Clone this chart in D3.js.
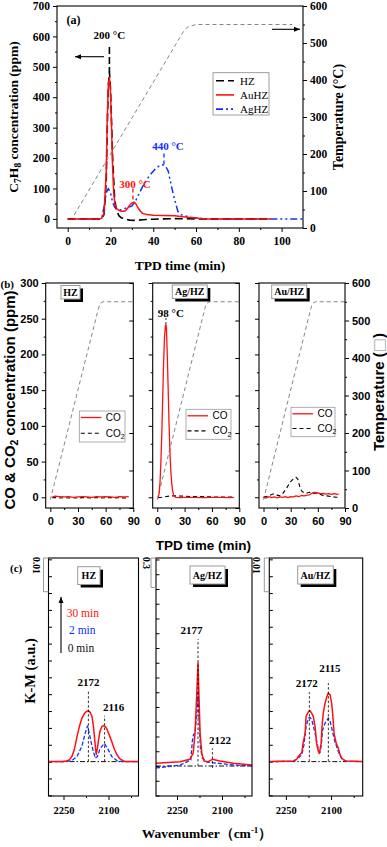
<!DOCTYPE html>
<html>
<head>
<meta charset="utf-8">
<title>TPD / DRIFTS figure</title>
<script src="https://cdn.jsdelivr.net/npm/d3@7"></script>
<style>
  body { margin: 0; background: #fff; }
  svg { display: block; }
</style>
</head>
<body>
<svg id="chart" width="387" height="847"></svg>
<script>
// ---- (a) C7H8 TPD ----
const aHzTime = [0,10,15,16,17,18,18.5,19,19.5,20,20.5,21,22,23,24,25,27,29,32,35,40,45,50,60,70,80,95];
const aHzVal  = [0,0,0,2,15,120,300,440,485,430,320,200,60,25,10,4,-1,-4,-5,-3,-1,0,1,0,0,0,0];
const aAuTime = [0,10,15,16,17,18,18.5,19,19.5,20,20.5,21,21.5,22,23,24,25,26,27,28,29,30,31,32,33,34,35,37,40,45,50,55,58,60,62,65,70,80,90,95];
const aAuVal  = [0,0,0,3,20,150,330,440,465,420,300,170,90,50,32,28,25,25,27,35,45,52,55,48,35,25,18,14,12,11,10,6,4,3,1,0,0,0,0,0];
const aAgTime = [0,10,15,16,17,18,19,20,21,22,23,24,25,27,30,32,35,38,41,43,44.5,46,47,48.5,50,51.5,53,55,57,60,65,80,100,110];
const aAgVal  = [0,0,0,5,40,85,100,85,55,38,32,30,30,35,42,63,106,140,165,175,178,170,157,107,63,25,14,10,6,3,0,0,0,0];
const aTempTime = [3,54,56,60,105];
const aTempVal  = [35,530,543,550,550];
const aYTicks = [0,100,200,300,400,500,600,700];
const aTTicks = [0,100,200,300,400,500,600];
const aXTicks = [0,20,40,60,80,100];

// ---- (b) CO / CO2 TPD ----
const bTempTime = [0,52,54,57,90];
const bTempVal  = [22,530,545,550,550];
const bHzTime = [2,5,10,15,20,25,30,35,40,45,50,55,60,65,70,75,80,85];
const bHzCO   = [0,1.5,1,0.5,1,0,0.5,1,0.5,0,1,0.5,1,0.5,0,1,0.5,1];
const bHzCO2  = [-0.5,-0.5,-1,-0.5,-1,-0.5,-1,-0.5,-0.5,-1,-0.5,-1,-0.5,-0.5,-1,-0.5,-1,-0.5];
const bAgTime = [1,2,3,4,5,6,7,8,9,9.5,10,11,12,13,14,15,16,17,18,20,25,30,40,50,60,70,80,84];
const bAgCO   = [0,5,20,50,90,140,190,225,240,242,238,200,150,100,60,35,18,8,3,0,-0.5,0,0,-0.5,0,0,-0.5,0];
const bAgCO2Time = [1,5,10,15,20,30,40,50,60,70,80,84];
const bAgCO2  = [-0.5,0,1,2,2,1.5,1,1,0.5,0.5,0.5,0];
const bAuTime = [0,3,6,9,12,15,18,21,24,27,30,33,36,39,42,45,48,51,54,57,60,63,66,69,72,75,78,81,83];
const bAuCO   = [0,-1,1,-0.5,0.5,-1,0.5,0,1,-0.5,1,0.5,2,1,2.5,2,3,3.5,6,7,6,5,5.5,4.5,5,4,5,4,4.5];
const bAuCO2Time = [0,3,6,9,12,15,18,21,24,27,30,33,36,38,40,42,45,48,51,54,57,60,65,70,75,80,83];
const bAuCO2  = [0,1,2,4,5,3,2,5,10,16,22,26,28,25,15,9,6,6,7,5,6,5,3,2,1,0,0];
const bYTicks = [0,50,100,150,200,250,300];
const bTTicks = [0,100,200,300,400,500,600];
const bXTicks = [0,30,60,90];

// ---- (c) DRIFTS K-M spectra ----
const cHzWn   = [2300,2255,2240,2230,2222,2213,2205,2197,2189,2180,2174,2167,2161,2155,2150,2146,2141,2137,2133,2128,2122,2117,2111,2106,2098,2089,2080,2072,2063,2050,2040,2000];
const cHz30   = [0,0,0.00015,0.0006,0.0015,0.0039,0.0074,0.0104,0.0128,0.0143,0.0149,0.0151,0.0146,0.0134,0.0104,0.0065,0.0021,0.0039,0.0065,0.0092,0.0104,0.0107,0.0104,0.0098,0.008,0.0059,0.0036,0.0021,0.0009,0.0002,0,0];
const cHzWn2  = [2300,2240,2220,2205,2189,2178,2170,2163,2155,2144,2137,2128,2114,2103,2089,2072,2055,2000];
const cHz2    = [0,0,0.00045,0.0015,0.0045,0.0083,0.0106,0.0079,0.0045,0.001,0.0015,0.0039,0.0054,0.0039,0.0015,0.0003,0,0];
const cAgWn   = [2320,2280,2240,2207,2196,2190,2184,2180,2177,2173,2167,2160,2146,2132,2107,2062,2000];
const cAg30   = [0.027,0.035,0.044,0.068,0.13,0.33,0.74,1.05,0.74,0.33,0.12,0.05,0.044,0.068,0.05,0.027,0.01];
const cAgWn2  = [2320,2240,2204,2199,2195,2190,2185,2180,2176,2172,2165,2150,2120,2060,2000];
const cAg2    = [-0.02,0.01,0.06,0.25,0.32,0.33,0.5,0.77,0.45,0.18,0.08,0.04,0.03,0.01,0];
const cAuWn   = [2305,2225,2214,2209,2197,2192,2186,2183,2175,2170,2164,2159,2153,2148,2142,2139,2133,2130,2126,2120,2114,2109,2103,2098,2094,2090,2083,2076,2070,2064,2053,1995];
const cAu30   = [0,0.0002,0.0007,0.0015,0.0027,0.0059,0.0084,0.0134,0.0148,0.0151,0.0143,0.0134,0.0104,0.0054,0.003,0.0024,0.0054,0.0104,0.0143,0.0173,0.0193,0.0203,0.0198,0.0173,0.0134,0.0084,0.0054,0.004,0.002,0.001,0.0002,0];
const cAuWn2  = [2305,2225,2209,2197,2190,2183,2175,2170,2164,2153,2142,2137,2133,2128,2120,2109,2103,2094,2087,2076,2064,2048,1995];
const cAu2    = [0,0.0001,0.001,0.002,0.005,0.0104,0.0129,0.0131,0.0124,0.0084,0.0035,0.0027,0.0045,0.0094,0.0114,0.0129,0.0119,0.0084,0.0059,0.003,0.0007,0.0001,0];
const cXTicks = [2250,2100];

const svg = d3.select("#chart");
const serif = "'Liberation Serif','Times New Roman',serif";
const sans = "'Liberation Sans',Arial,sans-serif";
const RED = "#ff1010", BLUE = "#1030ff";

function addAxis(gen, tx, ty, font, size) {
  const g = svg.append("g").attr("transform", `translate(${tx},${ty})`).call(gen);
  g.select(".domain").remove();
  g.selectAll("line").attr("stroke", "#000").attr("stroke-width", 1);
  g.selectAll("text")
    .attr("font-family", font)
    .attr("font-size", size)
    .attr("font-weight", "bold")
    .attr("fill", "#000");
  return g;
}

function frame(x0, y0, x1, y1) {
  svg.append("rect")
    .attr("x", x0).attr("y", y0)
    .attr("width", x1 - x0).attr("height", y1 - y0)
    .attr("fill", "none").attr("stroke", "#000").attr("stroke-width", 1.1);
}

function plotLine(xs, ys, xScale, yScale, color, width, dash) {
  const line = d3.line().x(d => xScale(d[0])).y(d => yScale(d[1]));
  svg.append("path")
    .datum(d3.zip(xs, ys))
    .attr("d", line)
    .attr("fill", "none")
    .attr("stroke", color)
    .attr("stroke-width", width)
    .attr("stroke-dasharray", dash || null)
    .attr("stroke-linejoin", "round");
}

function vDash(x, y0, y1, color, width, dash) {
  svg.append("line")
    .attr("x1", x).attr("x2", x).attr("y1", y0).attr("y2", y1)
    .attr("stroke", color).attr("stroke-width", width || 0.8)
    .attr("stroke-dasharray", dash || "3,2");
}

function label(x, y, txt, opts) {
  const o = Object.assign({ font: serif, size: 11, weight: "bold", fill: "#000", anchor: "middle" }, opts);
  return svg.append("text")
    .attr("x", x).attr("y", y)
    .attr("font-family", o.font).attr("font-size", o.size)
    .attr("font-weight", o.weight).attr("fill", o.fill)
    .attr("text-anchor", o.anchor)
    .text(txt);
}

function tagBox(x, y, w, h, txt) {
  svg.append("rect").attr("x", x + 3).attr("y", y + 3).attr("width", w).attr("height", h).attr("fill", "#000");
  svg.append("rect").attr("x", x).attr("y", y).attr("width", w).attr("height", h)
    .attr("fill", "#fff").attr("stroke", "#9a9a9a").attr("stroke-width", 1);
  label(x + w / 2, y + h / 2 + 3.5, txt, { size: 10 });
}

function arrow(x1, y1, x2, y2, color) {
  svg.append("line").attr("x1", x1).attr("y1", y1).attr("x2", x2).attr("y2", y2)
    .attr("stroke", color).attr("stroke-width", 1.1);
  const ang = Math.atan2(y2 - y1, x2 - x1);
  const L = 6, W = 2.5;
  const p = [
    [x2, y2],
    [x2 - L * Math.cos(ang) + W * Math.sin(ang), y2 - L * Math.sin(ang) - W * Math.cos(ang)],
    [x2 - L * Math.cos(ang) - W * Math.sin(ang), y2 - L * Math.sin(ang) + W * Math.cos(ang)]
  ];
  svg.append("polygon").attr("points", p.map(d => d.join(",")).join(" ")).attr("fill", color);
}

// ================= panel (a) =================
const ax = d3.scaleLinear().domain([-5, 110]).range([57, 303]);
const ay = d3.scaleLinear().domain([-30, 700]).range([228, 6]);
const at = d3.scaleLinear().domain([0, 600]).range([228, 6]);

addAxis(d3.axisLeft(ay).tickValues(aYTicks).tickSize(4).tickPadding(3), 57, 0, serif, 11.5);
addAxis(d3.axisLeft(ay).tickValues(d3.range(50, 700, 100)).tickSize(2).tickFormat(""), 57, 0, serif, 11);
addAxis(d3.axisRight(at).tickValues(aTTicks).tickSize(4).tickPadding(3), 303, 0, serif, 11.5);
addAxis(d3.axisRight(at).tickValues(d3.range(50, 600, 100)).tickSize(2).tickFormat(""), 303, 0, serif, 11);
addAxis(d3.axisBottom(ax).tickValues(aXTicks).tickSize(4).tickPadding(5), 0, 228, serif, 11.5);
addAxis(d3.axisBottom(ax).tickValues(d3.range(10, 110, 20)).tickSize(2).tickFormat(""), 0, 228, serif, 11);

plotLine(aTempTime, aTempVal, ax, at, "#777", 0.9, "4,3");
plotLine(aAgTime, aAgVal, ax, ay, BLUE, 1.5, "7,3,2,3,2,3");
plotLine(aHzTime, aHzVal, ax, ay, "#000", 1.6, "8,4");
plotLine(aAuTime, aAuVal, ax, ay, RED, 1.5);
frame(57, 6, 303, 228);

vDash(ax(19.5), ay(565), ay(485), "#000", 1.6, "7,3");
label(ax(19.5), 39, "200 °C", { size: 11 });
vDash(ax(30.5), ay(100), ay(55), RED, 1.3, "4,3");
label(135, 188, "300 °C", { size: 11, fill: RED });
vDash(ax(45), ay(215), ay(178), BLUE, 1.3, "4,3");
label(168, 150, "440 °C", { size: 11, fill: BLUE });
label(66.5, 24, "(a)", { size: 12, anchor: "start" });
arrow(104, 56.7, 75, 56.7, "#000");
arrow(272, 29.3, 300, 29.3, "#000");

// legend (a)
svg.append("rect").attr("x", 213).attr("y", 72.7).attr("width", 56).attr("height", 42.3)
  .attr("fill", "#fff").attr("stroke", "#888").attr("stroke-width", 0.8);
[["HZ", "#000", "8,4"], ["AuHZ", RED, null], ["AgHZ", BLUE, "7,3,2,3,2,3"]].forEach((d, i) => {
  const yy = 80.7 + i * 14.2;
  svg.append("line").attr("x1", 216).attr("x2", 234).attr("y1", yy).attr("y2", yy)
    .attr("stroke", d[1]).attr("stroke-width", 1.6).attr("stroke-dasharray", d[2]);
  label(240, yy + 4, d[0], { size: 11, weight: "normal", anchor: "start" });
});

// axis titles (a)
const ta = svg.append("text").attr("transform", "translate(18,117) rotate(-90)")
  .attr("text-anchor", "middle").attr("font-family", serif).attr("font-size", 13.5).attr("font-weight", "bold");
ta.append("tspan").text("C");
ta.append("tspan").text("7").attr("font-size", 9.5).attr("dy", 3);
ta.append("tspan").text("H").attr("dy", -3);
ta.append("tspan").text("8").attr("font-size", 9.5).attr("dy", 3);
ta.append("tspan").text(" concentration (ppm)").attr("dy", -3);
svg.append("text").attr("transform", "translate(343,117) rotate(-90)")
  .attr("text-anchor", "middle").attr("font-family", serif).attr("font-size", 14).attr("font-weight", "bold")
  .text("Temperature (°C)");
label(180, 270, "TPD time (min)", { size: 13.5 });

// ================= panel (b) =================
const by = d3.scaleLinear().domain([-15, 300]).range([508, 283]);
const bt = d3.scaleLinear().domain([0, 600]).range([508, 283]);
const bFrames = [[45.7, 133.3], [152.7, 239.3], [259, 345]];
const bSets = [
  { name: "HZ", coT: bHzTime, co: bHzCO, co2T: bHzTime, co2: bHzCO2, tag: [61, 285.5, 19, 13.5], leg: [79.3, 411, 45.7, 31] },
  { name: "Ag/HZ", coT: bAgTime, co: bAgCO, co2T: bAgCO2Time, co2: bAgCO2, tag: [172.3, 285, 35, 13.5], leg: [186, 409.3, 45, 30] },
  { name: "Au/HZ", coT: bAuTime, co: bAuCO, co2T: bAuCO2Time, co2: bAuCO2, tag: [271.7, 285, 35, 13.5], leg: [291, 407.3, 44, 29.4] }
];

bSets.forEach((s, i) => {
  const [x0, x1] = bFrames[i];
  const bx = d3.scaleLinear().domain([-5, 90]).range([x0, x1]);
  addAxis(d3.axisLeft(by).tickValues(bYTicks).tickSize(4).tickPadding(3).tickFormat(i === 0 ? d3.format("d") : ""), x0, 0, sans, 11);
  addAxis(d3.axisLeft(by).tickValues(d3.range(25, 300, 50)).tickSize(2).tickFormat(""), x0, 0, sans, 11);
  if (i === 2) {
    addAxis(d3.axisRight(bt).tickValues(bTTicks).tickSize(4).tickPadding(3), x1, 0, sans, 11);
    addAxis(d3.axisRight(bt).tickValues(d3.range(50, 600, 100)).tickSize(2).tickFormat(""), x1, 0, sans, 11);
  } else {
    addAxis(d3.axisRight(bt).tickValues(bTTicks).tickSize(-4).tickFormat(""), x1, 0, sans, 11);
  }
  addAxis(d3.axisBottom(bx).tickValues(bXTicks).tickSize(4).tickPadding(5), 0, 508, sans, 11);
  addAxis(d3.axisBottom(bx).tickValues([15, 45, 75]).tickSize(2).tickFormat(""), 0, 508, sans, 11);

  plotLine(bTempTime, bTempVal, bx, bt, "#777", 0.9, "4,3");
  plotLine(s.co2T, s.co2, bx, by, "#000", 1.1, "4,3");
  plotLine(s.coT, s.co, bx, by, RED, 1.3);
  frame(x0, 283, x1, 508);

  const [tx, ty, tw, th] = s.tag;
  tagBox(tx, ty, tw, th, s.name);

  const [lx, ly, lw, lh] = s.leg;
  svg.append("rect").attr("x", lx).attr("y", ly).attr("width", lw).attr("height", lh)
    .attr("fill", "#fff").attr("stroke", "#999").attr("stroke-width", 0.8);
  const y1 = ly + 6.5, y2 = ly + lh * 0.72;
  svg.append("line").attr("x1", lx + 1.5).attr("x2", lx + 22).attr("y1", y1).attr("y2", y1)
    .attr("stroke", RED).attr("stroke-width", 1.3);
  svg.append("line").attr("x1", lx + 1.5).attr("x2", lx + 22).attr("y1", y2).attr("y2", y2)
    .attr("stroke", "#000").attr("stroke-width", 1.1).attr("stroke-dasharray", "4,3");
  label(lx + 26.5, y1 + 3.5, "CO", { font: sans, size: 10, weight: "normal", anchor: "start" });
  const c2 = label(lx + 26.5, y2 + 3.5, "CO", { font: sans, size: 10, weight: "normal", anchor: "start" });
  c2.append("tspan").text("2").attr("font-size", 7).attr("dy", 2.5);

  if (i === 1) {
    vDash(bx(9.5), 318, by(242), "#000", 0.8, "2,2");
    label(bx(9.5) + 5, 316.5, "98 °C", { size: 11 });
  }
});

label(0.5, 288, "(b)", { size: 11, anchor: "start" });
const tb = svg.append("text").attr("transform", "translate(14.5,400) rotate(-90)")
  .attr("text-anchor", "middle").attr("font-family", sans).attr("font-size", 15).attr("font-weight", "bold");
tb.append("tspan").text("CO & CO");
tb.append("tspan").text("2").attr("font-size", 10.5).attr("dy", 3);
tb.append("tspan").text(" concentration (ppm)").attr("dy", -3);
const tr = svg.append("text").attr("transform", "translate(383.5,392) rotate(-90)")
  .attr("text-anchor", "middle").attr("font-family", sans).attr("font-size", 15).attr("font-weight", "bold");
tr.append("tspan").text("Temperature (");
tr.append("tspan").text("\u25A1").attr("fill", "#aaa").attr("font-family", "'DejaVu Sans',sans-serif").attr("font-weight", "normal");
tr.append("tspan").text(")");
label(203.5, 550, "TPD time (min)", { font: sans, size: 13.5 });

// ================= panel (c) =================
const cTop = 558, cBot = 796;
const cSets = [
  { name: "HZ", x: [48.5, 138.5], wn: [2300, 2000], y: [-0.0102, 0.0604], tick: 0.005, bar: 0.01, barTxt: "0.01", txtX: 33,
    r: [cHzWn, cHz30], b: [cHzWn2, cHz2], tag: [77.7, 566.7, 22.3, 17.8],
    peaks: [[2167, 0.0213, "2172", 0, 0.0225], [2113, 0.0136, "2116", 9, 0.0149]] },
  { name: "Ag/HZ", x: [156, 252], wn: [2320, 2000], y: [-0.305, 2.115], tick: 0.15, bar: 0.3, barTxt: "0.3", txtX: 143,
    r: [cAgWn, cAg30], b: [cAgWn2, cAg2], tag: [190, 566, 35, 18],
    peaks: [[2180, 1.29, "2177", -6.5, 1.34], [2132, 0.18, "2122", 7.5, 0.22]] },
  { name: "Au/HZ", x: [269.3, 362.7], wn: [2305, 1995], y: [-0.0102, 0.0604], tick: 0.005, bar: 0.01, barTxt: "0.01", txtX: 253,
    r: [cAuWn, cAu30], b: [cAuWn2, cAu2], tag: [297.7, 566, 35.6, 18],
    peaks: [[2172, 0.0206, "2172", -2.5, 0.0222], [2109, 0.0233, "2115", 1.5, 0.0266]] }
];

cSets.forEach((s) => {
  const [x0, x1] = s.x;
  const cx = d3.scaleLinear().domain(s.wn).range([x0, x1]);
  const cy = d3.scaleLinear().domain(s.y).range([cBot, cTop]);

  const ticks = d3.range(Math.ceil(s.y[0] / s.tick) * s.tick, s.y[1], s.tick);
  addAxis(d3.axisLeft(cy).tickValues(ticks).tickSize(-3.5).tickFormat(""), x0, 0, serif, 10);
  addAxis(d3.axisBottom(cx).tickValues(cXTicks).tickSize(4).tickPadding(7).tickFormat(d3.format("d")), 0, cBot, serif, 10.5);
  addAxis(d3.axisBottom(cx).tickValues([2175, 2025]).tickSize(2).tickFormat(""), 0, cBot, serif, 10.5);

  // 0 min reference
  svg.append("line").attr("x1", x0).attr("x2", x1).attr("y1", cy(0)).attr("y2", cy(0))
    .attr("stroke", "#111").attr("stroke-width", 1).attr("stroke-dasharray", "5,2,1.5,2");
  plotLine(s.b[0], s.b[1], cx, cy, BLUE, 1.3, "4,2");
  plotLine(s.r[0], s.r[1], cx, cy, RED, 1.5);

  s.peaks.forEach(p => {
    vDash(cx(p[0]), cy(p[0] === 2132 ? -0.02 : 0), cy(p[1]), "#000", 0.8, "2.5,2");
    label(cx(p[0]) + p[3], cy(p[4]), p[2], { size: 11 });
  });

  frame(x0, cTop, x1, cBot);
  tagBox(s.tag[0], s.tag[1], s.tag[2], s.tag[3], s.name);

  // scale bar
  const yb = cy(s.y[1] - s.bar);
  const bxl = x0 - 5;
  svg.append("path")
    .attr("d", `M${x0},${cTop} H${bxl} V${yb} H${x0}`)
    .attr("fill", "none").attr("stroke", "#999").attr("stroke-width", 1);
  svg.append("text").attr("transform", `translate(${s.txtX},${cTop - 1}) rotate(90)`)
    .attr("font-family", serif).attr("font-size", 9.5).attr("font-weight", "bold")
    .text(s.barTxt);
});

// legend (c)
arrow(61, 653, 61, 597, "#000");
label(66.7, 616.5, "30 min", { size: 11.5, weight: "normal", anchor: "start", fill: RED });
label(69, 634, "2 min", { size: 11.5, weight: "normal", anchor: "start", fill: BLUE });
label(67.7, 651.5, "0 min", { size: 11.5, weight: "normal", anchor: "start", fill: "#111" });

label(10, 572, "(c)", { size: 11, anchor: "start" });
svg.append("text").attr("transform", "translate(35,671) rotate(-90)")
  .attr("text-anchor", "middle").attr("font-family", serif).attr("font-size", 14.5).attr("font-weight", "bold")
  .text("K-M (a.u.)");
const tw = svg.append("text").attr("x", 207).attr("y", 838).attr("text-anchor", "middle")
  .attr("font-family", serif).attr("font-size", 13.5).attr("font-weight", "bold");
tw.append("tspan").text("Wavenumber\uFF08cm");
tw.append("tspan").text("-1").attr("font-size", 9).attr("dy", -5);
tw.append("tspan").text("\uFF09").attr("dy", 5);
</script>
</body>
</html>
